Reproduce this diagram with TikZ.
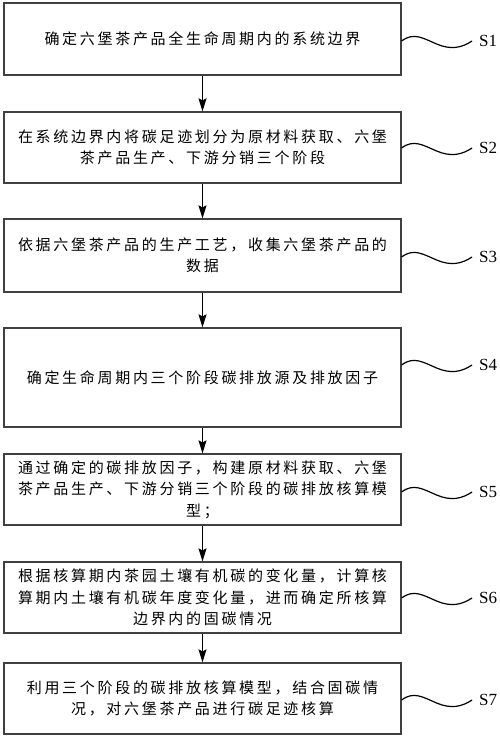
\documentclass[tikz,border=0pt]{standalone}
\usepackage{fontspec}
\setmainfont{Liberation Serif}
\newfontfamily\cjk{Noto Sans CJK SC}[LetterSpace=18]
\usetikzlibrary{arrows.meta}
\begin{document}
\begin{tikzpicture}[x=1pt,y=-1pt,
  box/.style={draw=black!75, line width=1.2pt, minimum width=397pt, inner sep=0pt,
    align=center, font=\cjk\fontsize{15}{21.5}\selectfont},
  lab/.style={font=\fontsize{17}{17}\selectfont, anchor=west, inner sep=0pt},
  arr/.style={-{Stealth[length=13pt,width=8pt,inset=2pt]}, line width=1.2pt},
  wave/.style={line width=1.2pt}]
\useasboundingbox (0,0) rectangle (500,738);
\node[box, minimum height=72pt] (b1) at (202.5,39) {确定六堡茶产品全生命周期内的系统边界};
\node[box, minimum height=71pt] (b2) at (202.5,147.5) {在系统边界内将碳足迹划分为原材料获取、六堡\\茶产品生产、下游分销三个阶段};
\node[box, minimum height=73pt] (b3) at (202.5,255.5) {依据六堡茶产品的生产工艺，收集六堡茶产品的\\数据};
\node[box, minimum height=99pt] (b4) at (202.5,377.5) {确定生命周期内三个阶段碳排放源及排放因子};
\node[box, minimum height=71pt] (b5) at (202.5,489.5) {通过确定的碳排放因子，构建原材料获取、六堡\\茶产品生产、下游分销三个阶段的碳排放核算模\\型；};
\node[box, minimum height=71pt] (b6) at (202.5,597.5) {根据核算期内茶园土壤有机碳的变化量，计算核\\算期内土壤有机碳年度变化量，进而确定所核算\\边界内的固碳情况};
\node[box, minimum height=71pt] (b7) at (202.5,698.5) {利用三个阶段的碳排放核算模型，结合固碳情\\况，对六堡茶产品进行碳足迹核算};
\node[lab] (l1) at (479,41) {S1};
\node[lab] (l2) at (479,148) {S2};
\node[lab] (l3) at (479,257) {S3};
\node[lab] (l4) at (479,365) {S4};
\node[lab] (l5) at (479,492) {S5};
\node[lab] (l6) at (479,598) {S6};
\node[lab] (l7) at (479,700) {S7};
\foreach \i/\j in {1/2,2/3,3/4,4/5,5/6,6/7}{
  \draw[arr] (b\i.south) -- (b\j.north);
}
\foreach \i in {1,...,7}{
  \draw[wave, shift={(b\i.east |- l\i.west)}] (0,0) .. controls (12,-9) and (21,-3) .. (35,3)
    .. controls (49,9) and (60,7) .. ([xshift=-7pt]l\i.west);
}
\end{tikzpicture}
\end{document}
